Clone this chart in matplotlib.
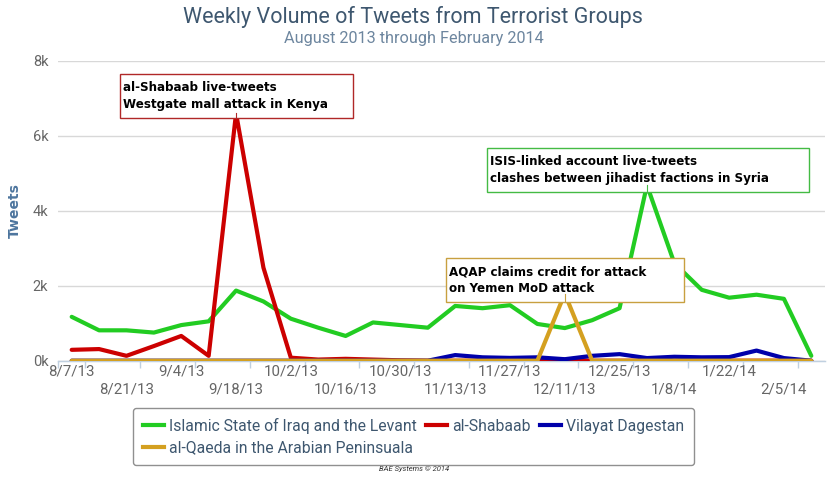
import matplotlib
matplotlib.use('Agg')
import matplotlib.pyplot as plt
from matplotlib.patches import Rectangle
from matplotlib.lines import Line2D

# ---------------- data ----------------
weeks = ["8/7/13", "8/14/13", "8/21/13", "8/28/13", "9/4/13", "9/11/13", "9/18/13",
         "9/25/13", "10/2/13", "10/9/13", "10/16/13", "10/23/13", "10/30/13", "11/6/13",
         "11/13/13", "11/20/13", "11/27/13", "12/4/13", "12/11/13", "12/18/13", "12/25/13",
         "1/1/14", "1/8/14", "1/15/14", "1/22/14", "1/29/14", "2/5/14", "2/12/14"]

isil = [1170, 810, 810, 750, 950, 1050, 1870, 1580, 1120, 880, 660, 1020, 950, 880,
        1460, 1400, 1480, 980, 870, 1080, 1400, 4680, 2600, 1890, 1680, 1760, 1650, 130]
shabaab = [290, 310, 130, 390, 660, 130, 6600, 2480, 80, 30, 50, 30, 10, 0,
           0, 0, 0, 30, 30, 0, 0, 0, 0, 0, 0, 0, 0, 0]
dagestan = [0, 0, 0, 0, 0, 0, 0, 0, 0, 0, 0, 0, 0, 0,
            150, 90, 75, 90, 40, 130, 175, 70, 105, 90, 95, 270, 70, 0]
aqap = [0, 0, 0, 0, 0, 0, 0, 0, 0, 0, 0, 0, 0, 0,
        0, 0, 0, 0, 1790, 0, 0, 0, 0, 0, 0, 0, 0, 0]

series_names = ["Islamic State of Iraq and the Levant", "al-Shabaab",
                "Vilayat Dagestan", "al-Qaeda in the Arabian Peninsuala"]
series_colors = ["#22CC22", "#CC0000", "#0000AA", "#D4A020"]

yticks = [0, 2000, 4000, 6000, 8000]
ytick_labels = ["0k", "2k", "4k", "6k", "8k"]

title = "Weekly Volume of Tweets from Terrorist Groups"
subtitle = "August 2013 through February 2014"

notes = [
    ("al-Shabaab live-tweets\nWestgate mall attack in Kenya", "#B02828", 6, 6600),
    ("ISIS-linked account live-tweets\nclashes between jihadist factions in Syria", "#44BB44", 21, 4680),
    ("AQAP claims credit for attack\non Yemen MoD attack", "#C8A040", 18, 1790),
]
# box extents (x in category units, y in tweets)
note_boxes = [(1.76, 10.26, 6472, 7645), (15.16, 26.91, 4499, 5672), (13.66, 22.35, 1565, 2739)]

# ---------------- figure ----------------
W, H = 831, 479
fig = plt.figure(figsize=(W / 100, H / 100), dpi=100)
ax = fig.add_axes([58 / W, 1 - 360.7 / H, 767 / W, 300 / H])
FAM = ['Roboto', 'DejaVu Sans']

x = list(range(len(weeks)))
for i, (vals, name, col) in enumerate(zip([isil, shabaab, dagestan, aqap], series_names, series_colors)):
    ax.plot(x, vals, color=col, lw=3, solid_joinstyle='round', solid_capstyle='round',
            zorder=3 + i, label=name)

ax.set_xlim(-0.5, len(weeks) - 0.5)
ax.set_ylim(0, 8000)

ax.set_yticks(yticks)
ax.set_yticklabels(ytick_labels)
ax.yaxis.grid(True, color='#D8D8D8', lw=1)
ax.set_axisbelow(True)
ax.tick_params(axis='y', length=0, pad=7, labelcolor='#666666', labelsize=10.5)
for lab in ax.get_yticklabels():
    lab.set_fontfamily(FAM)

# two staggered rows of date labels: row 1 as major ticks, row 2 as minor ticks
row1 = x[0::4]
row2 = x[2::4]
ax.set_xticks(row1)
ax.set_xticklabels([weeks[i] for i in row1])
ax.set_xticks(row2, minor=True)
ax.set_xticklabels([weeks[i] for i in row2], minor=True)
ax.tick_params(axis='x', which='major', length=0, pad=3, labelcolor='#666666', labelsize=10.8)
ax.tick_params(axis='x', which='minor', length=0, pad=15.5, labelcolor='#666666', labelsize=10.8)
for lab in ax.get_xticklabels() + ax.get_xticklabels(minor=True):
    lab.set_fontfamily(FAM)

# tick marks between categories
sec = ax.secondary_xaxis('bottom')
sec.set_xticks([-0.5] + [i + 0.5 for i in range(0, len(weeks) - 1, 2)])
sec.set_xticklabels([])
sec.tick_params(axis='x', length=5, color='#C0D0E0', width=1)
sec.spines['bottom'].set_color('#C0D0E0')

for s in ['top', 'right', 'left']:
    ax.spines[s].set_visible(False)
ax.spines['bottom'].set_color('#C0D0E0')
ax.spines['bottom'].set_linewidth(1)

# annotations
for (txt, col, xi, yv), (x0, x1, y0, y1) in zip(notes, note_boxes):
    ax.add_patch(Rectangle((x0, y0), x1 - x0, y1 - y0, facecolor='white', edgecolor=col,
                           lw=1, zorder=10))
    ax.plot([xi, xi], [y0, yv], color=col, lw=0.8, zorder=11)
    ax.text(x0 + 0.12, (y0 + y1) / 2, txt, fontsize=8.6, fontweight='bold', color='black',
            family='DejaVu Sans', ha='left', va='center', linespacing=1.35, zorder=12)

# titles
fig.text(413 / W, 1 - 17 / H, title, fontsize=15.5, color='#3E576F', ha='center', va='center',
         family=FAM)
fig.text(414 / W, 1 - 38 / H, subtitle, fontsize=11.7, color='#6D869F', ha='center', va='center',
         family=FAM)
fig.text(15 / W, 1 - 211 / H, "Tweets", rotation=90, fontsize=10, fontweight='bold',
         color='#4D759E', ha='center', va='center', family='DejaVu Sans')

# legend
handles = [Line2D([], [], color=c, lw=3) for c in series_colors]
order = [0, 3, 1, 2]
leg = fig.legend([handles[i] for i in order], [series_names[i] for i in order],
                 loc='center', bbox_to_anchor=(413.5 / W, 1 - 436.5 / H), ncol=3,
                 handlelength=1.35, handletextpad=0.3, columnspacing=0.6,
                 labelspacing=0.4, borderpad=0.65, frameon=True, fancybox=True,
                 edgecolor='#909090', framealpha=1, prop={'family': FAM, 'size': 11.3})
leg.get_frame().set_linewidth(1)
for t in leg.get_texts():
    t.set_color('#3E576F')

fig.text(414 / W, 1 - 469 / H, "BAE Systems \u00a9 2014", fontsize=5.5, style='italic',
         color='#333333', ha='center', va='center', family=FAM)

fig.savefig('out.png', dpi=100)
